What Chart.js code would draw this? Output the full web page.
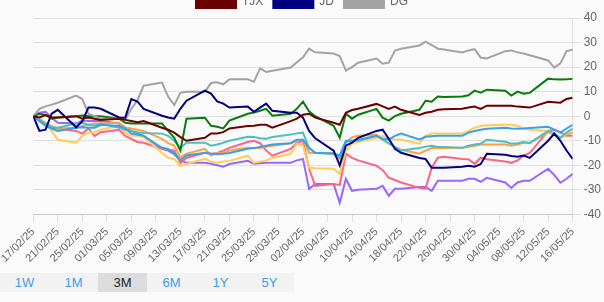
<!DOCTYPE html>
<html>
<head>
<meta charset="utf-8">
<script src="https://cdn.jsdelivr.net/npm/chart.js@4/dist/chart.umd.min.js"></script>
<style>
  html, body { margin: 0; padding: 0; background: #fafafa; overflow: hidden; }
  body { width: 604px; height: 302px; position: relative; font-family: "Liberation Sans", Arial, sans-serif; }
  #chartBox { position: absolute; left: 0; top: -14px; width: 604px; height: 282px; }
  #ranges { position: absolute; left: 0; top: 273px; width: 294px; height: 19px; background: #f2f2f2; display: flex; }
  #ranges div { width: 49px; height: 19px; line-height: 19px; text-align: center; font-size: 13px; color: #3f9de9; }
  #ranges div.active { background: #dcdcdc; color: #222; }
</style>
</head>
<body>
<div id="chartBox"><canvas id="perfChart"></canvas></div>
<div id="ranges">
  <div>1W</div><div>1M</div><div class="active">3M</div><div>6M</div><div>1Y</div><div>5Y</div>
</div>
<script>
// days since 17/02/25 for every point
const dayOffsets = [0,1,2,3,4, 7,8,9,10,11, 14,15,16,17,18, 21,22,23,24,25, 28,29,30,31,32,
  35,36,37,38,39, 42,43,44,45,46, 49,50,51,52,53, 56,57,58,59,60, 63,64,65,66,67,
  70,71,72,73,74, 77,78,79,80,81, 84,85,86,87,88];

const tickLabels = ["17/02/25","21/02/25","25/02/25","01/03/25","05/03/25","09/03/25","13/03/25",
  "17/03/25","21/03/25","25/03/25","29/03/25","02/04/25","06/04/25","10/04/25","14/04/25",
  "18/04/25","22/04/25","26/04/25","30/04/25","04/05/25","08/05/25","12/05/25","16/05/25"];

// % change, one value per point
const tjx = [0,-0.5,0.5,-0.5,-0.5, 0,-1,-0.5,-1,-1.5, -1,-1.5,-2,-2.5,-2, -4.7,-5.5,-6.7,-8.5,-10,
  -8.8,-7,-7,-6.5,-5, -4,-3.9,-3.5,-3.5,-4.7, -2,-1,0.6,1,-0.6, -2.7,-3.5,1.4,2.5,3,
  5,4,3,3.9,2.6, 0.5,1.4,1.8,2.6,2.8, 3,3.5,3.9,3,4.3, 4.3,4.3,3.9,3.7,3.5, 5.9,5.7,5.5,7,7.5];
const jd = [0,-6,-5.5,1,2.6, -4.5,-2,3.5,3.5,3, -0.5,-0.6,7,6,3, 0.2,-0.5,-1,3,6.3,
  10.4,9.2,6,5.1,3.5, 3.9,1.8,3.5,5.1,2.2, 1.4,1.4,-0.6,-6,-9, -14,-20,-12,-10.8,-8.8,
  -6,-5.5,-9.2,-13.3,-14.9, -17,-17.4,-21,-21,-21, -20.6,-20.2,-20.6,-19.5,-15.3,
  -15.7,-16.2,-16.5,-16,-17, -10,-7.1,-10,-14,-17.4];
const dg = [0,3,4,4.7,5.5, 8.4,7,1,0,-1, -1,-1.5,3,6.5,12.4, 13.7,8,4.5,9.5,10,
  10,13.5,13.8,13,15, 15,14,19.5,18,18.5, 19.8,22,24,27.5,26, 25.5,24.5,18.6,20,21.8,
  23.5,21.4,21.8,26.7,27.5, 28.8,30.4,29,27.5,27.2, 26,26.8,27.3,23.9,23.5,
  26.5,26.8,26,25.5,24.8, 22.7,19.8,21.5,26.5,27.1];
const greenSeries = [0,1,0.5,-1,-0.5, 0,0.3,0,0,0, -1,-2.7,-3,-3,-3, -3,-6,-8.8,-14,-1,
  -0.6,-3.9,-4.3,-5,-1.8, 1,1.5,2.2,3,0.2, 1,3,5.9,2,0, -3.9,-8.8,1,-1,0.6,
  3,-0.6,-1.8,0,1, 2.6,6.3,5.9,8,7.8, 8,8.5,10.4,9.6,10.8, 10.4,8.4,10,9.2,9.5, 15.3,15,14.9,15,15.3];
const blueSeries = [0,-2,-3.9,-5,-6, -4.7,-4.5,-4.7,-4.7,-3.5, -4,-5,-7.1,-7.5,-8, -12.9,-13.3,-15,-18,-16,
  -14.9,-15.3,-15.5,-15.3,-15, -13.3,-13,-12.5,-12,-11.5, -11,-9.6,-9.6,-13,-14.9, -15.3,-16,-10,-10,-9.6,
  -8,-9.2,-9.5,-8,-7.1, -9.5,-8.4,-8.2,-8,-8, -8,-6.7,-6,-5.5,-5.1, -4.7,-5,-5.1,-5,-4.8, -4.3,-5.5,-6.7,-5,-3.5];
const tealSeries = [0,-1.5,-3,-4.5,-4.7, -3,-2.7,-3.5,-3.9,-3, -4.7,-5.5,-6,-6.5,-6.8, -7.1,-8,-10,-13,-10.8,
  -10.8,-12,-11.5,-10.8,-10, -8.4,-8.5,-9,-9.2,-8.5, -7.5,-7,-6.7,-13,-14.9, -15.3,-16.9,-10.5,-10,-10,
  -8,-9.5,-11,-12.5,-14, -13,-12.4,-12,-12.5,-12.5, -12.9,-12,-11.5,-11.2,-9.6,
  -10.4,-11.2,-11,-10.5,-11, -6,-7,-8.8,-6.7,-5];
const yellowSeries = [0,-1,-3,-6,-9.6, -10.8,-8,-6.7,-6.5,-5.5, -3.9,-6.7,-8,-8,-8.5, -14.9,-17,-17.4,-20.2,-19.5,
  -17.4,-18.5,-19,-18.5,-18.2, -16.1,-19,-18.5,-18,-17, -15.3,-11.2,-12,-21,-21.2, -21.4,-23.5,-14,-11.2,-10.5,
  -8.8,-8,-9,-9.5,-9.6, -11.2,-8,-7.1,-7.1,-7.1, -7.1,-6,-4.7,-4,-3.7, -3.5,-3.5,-4,-5,-5.5, -6,-8,-8.8,-7,-5.1];
const orangeSeries = [0,-1,-2.7,-4,-5, -4.7,-4,-3.5,-3,-3, -2.7,-4.7,-5,-5.5,-6, -9.2,-11,-12,-16.9,-15.3,
  -13.3,-16,-15,-14.9,-14, -12.9,-13,-13,-12.5,-12, -11,-10,-9.6,-14.9,-15, -15,-17.4,-10.8,-8.5,-8,
  -7.5,-9.5,-11.2,-12.5,-13.7, -15.3,-14,-13,-13,-13, -12.9,-12.5,-12,-11.5,-11.5,
  -11.5,-12,-11.5,-10.8,-10.8, -6.7,-7.5,-8.8,-7.5,-6.7];
const pinkSeries = [0,-1,-3,-4.7,-5, -6,-7.1,-5,-8,-6.5, -5.5,-8,-9.2,-10.5,-10.8, -13.3,-13.8,-14,-19,-17,
  -14.9,-15.3,-15,-14,-12.9, -10.5,-10,-11,-14,-16.1, -13.3,-11,-10,-21.4,-28.4, -27.6,-28,-15.3,-17,-18,
  -20.2,-22,-25,-26,-27, -29.2,-29.5,-21,-16.9,-16.5, -17.4,-17.5,-19.4,-16.9,-17.5,
  -18.5,-19,-18,-16.1,-15, -6,-5.5,-6.5,-8,-8];
const purpleSeries = [0,1.4,1.8,-0.6,-2.7, -3,-1.8,-2,-2,-2, -3,-4.5,-6,-7,-8, -13.3,-14,-15.5,-18,-19,
  -19,-19.4,-20,-20.6,-19.5, -18.2,-19.4,-19.2,-19,-19, -19,-18,-17.4,-29.6,-27.6, -27.6,-35.3,-25.5,-30.4,-30,
  -29.6,-28.4,-32.4,-29.6,-29.6, -28.8,-28.8,-30.4,-26.3,-26.3, -26.3,-25.5,-25.5,-26.7,-25.1,
  -27,-29.2,-27,-26.3,-26.3, -21.4,-24,-27.1,-25.5,-23.5];

const yTicks = { min: -40, max: 40, step: 10 };

function toPoints(values) {
  return values.map((v, i) => ({ x: dayOffsets[i], y: v }));
}

function line(label, values, color) {
  return {
    label: label,
    data: toPoints(values),
    borderColor: color,
    backgroundColor: color,
    borderWidth: 2,
    pointRadius: 0,
    tension: 0,
  };
}

document.addEventListener("DOMContentLoaded", () => {
  const ctx = document.getElementById("perfChart").getContext("2d");
  new Chart(ctx, {
    type: "line",
    data: {
      datasets: [
        line("TJX", tjx, "#6b0000"),
        line("JD", jd, "#000080"),
        line("DG", dg, "#a3a3a3"),
        line("", greenSeries, "#0a7a0a"),
        line("", blueSeries, "#36a2eb"),
        line("", tealSeries, "#4bc0c0"),
        line("", yellowSeries, "#ffcd56"),
        line("", orangeSeries, "#ff9f40"),
        line("", pinkSeries, "#ff6384"),
        line("", purpleSeries, "#9966ff"),
      ],
    },
    options: {
      responsive: true,
      maintainAspectRatio: false,
      animation: false,
      plugins: {
        tooltip: { enabled: false },
        legend: {
          labels: {
            boxWidth: 40,
            boxHeight: 12,
            color: "#666",
            font: { size: 12 },
            filter: (item) => item.text !== "",
          },
        },
      },
      scales: {
        x: {
          type: "linear",
          min: 0,
          max: 88,
          grid: { drawOnChartArea: false, tickLength: 8 },
          ticks: {
            stepSize: 4,
            autoSkip: false,
            maxRotation: 45,
            minRotation: 45,
            color: "#666",
            font: { size: 11 },
            callback: (value) => tickLabels[value / 4],
          },
        },
        y: {
          position: "right",
          min: yTicks.min,
          max: yTicks.max,
          ticks: { stepSize: yTicks.step, color: "#666", font: { size: 12 } },
        },
      },
    },
  });
});
</script>
</body>
</html>
